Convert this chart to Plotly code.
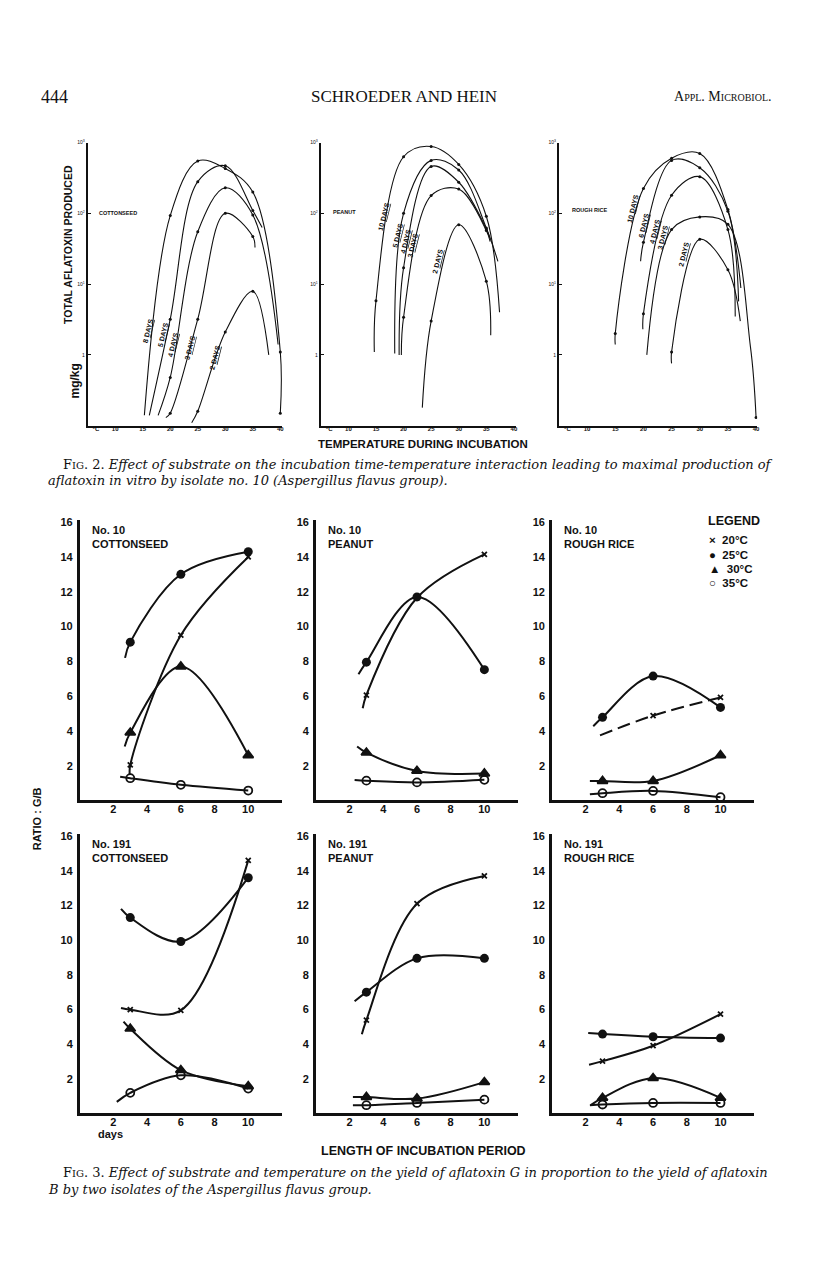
import plotly.graph_objects as go

W, H = 816, 1270

# ---------------- Fig. 2 data: total aflatoxin (mg/kg) vs temperature (C) ----------------
# measured temperatures / values per curve, plus where the drawn pen line starts and ends
COTTON_LABELS = ["8 DAYS", "5 DAYS", "4 DAYS", "3 DAYS", "2 DAYS"]
COTTON_T = [[20, 25, 30, 35, 40, 40], [20, 25, 30, 35], [20, 25, 30, 35], [20, 25, 30, 35], [25, 30, 35]]
COTTON_V = [[93, 550, 430, 200, 1.1, 0.15], [3.2, 280, 470, 110], [0.48, 55, 230, 95],
            [0.15, 3.2, 100, 47], [0.16, 2.1, 7.9]]
COTTON_START = [(15.3, 0.14), (16.2, 0.14), (17.8, 0.14), (19.2, 0.13), (23.9, 0.11)]
COTTON_END = [None, (36.7, 63), (39.6, 1.4), (35.4, 33), (37.9, 1.0)]

PEANUT_LABELS = ["10 DAYS", "5 DAYS", "4 DAYS", "3 DAYS", "2 DAYS"]
PEANUT_T = [[15, 20, 25, 30, 35], [20, 25, 30, 35], [20, 25, 30, 35], [20, 25, 30, 35], [25, 30, 35]]
PEANUT_V = [[5.8, 630, 880, 490, 91], [100, 560, 410, 62], [17, 460, 275, 60],
            [3.4, 178, 220, 57], [3.0, 69, 11]]
PEANUT_START = [(14.7, 1.1), (18.4, 1.05), (19.2, 1.0), (19.6, 1.0), (23.4, 0.18)]
PEANUT_END = [(37.4, 4.0), (37.1, 21), (35.6, 45), (35.7, 40), (35.8, 1.9)]

RICE_LABELS = ["10 DAYS", "6 DAYS", "4 DAYS", "3 DAYS", "2 DAYS"]
RICE_T = [[15, 20, 25, 30, 35], [20, 25, 30, 35], [20, 25, 30, 35], [25, 30, 35, 40], [25, 30, 35]]
RICE_V = [[2.0, 225, 600, 700, 113], [39, 560, 440, 107], [3.8, 180, 330, 59],
          [59, 89, 70, 0.13], [1.1, 43, 16]]
RICE_START = [(15.0, 1.4), (19.5, 21), (19.9, 2.3), (20.6, 1.0), (25.0, 0.76)]
RICE_END = [(37.3, 8.8), (36.9, 5.7), (36.3, 3.5), None, (37.2, 3.0)]
RICE_MID = [None, None, None, (39.0, 1.3), None]   # pen point between 35 and 40 on 3-day curve

# ---------------- Fig. 3 data: ratio G/B vs incubation days ----------------
DAYS = [3, 6, 10]
TEMPS = ["20", "25", "30", "35"]

N10_COTTON = {"20": [2.04, 9.5, 14.0], "25": [9.1, 13.0, 14.3], "30": [3.9, 7.7, 2.6], "35": [1.28, 0.9, 0.57]}
N10_COTTON_LEAD = {"20": (2.97, 1.5), "25": (2.69, 8.2), "30": (2.67, 3.1), "35": (2.4, 1.37)}

N10_PEANUT = {"20": [6.06, 11.65, 14.15], "25": [7.95, 11.7, 7.52], "30": [2.75, 1.7, 1.55], "35": [1.14, 1.04, 1.19]}
N10_PEANUT_LEAD = {"20": (2.78, 5.3), "25": (2.53, 7.25), "30": (2.45, 3.1), "35": (2.3, 1.18)}

N10_RICE = {"20": [None, 4.88, 5.92], "25": [4.78, 7.15, 5.35], "30": [1.12, 1.12, 2.6], "35": [0.42, 0.55, 0.19]}
N10_RICE_LEAD = {"20": (2.85, 3.74), "25": (2.45, 4.27), "30": (2.25, 1.12), "35": (2.25, 0.36)}

N191_COTTON = {"20": [5.99, 5.95, 14.6], "25": [11.3, 9.92, 13.6], "30": [4.89, 2.5, 1.57], "35": [1.19, 2.2, 1.44]}
N191_COTTON_LEAD = {"20": (2.45, 6.08), "25": (2.45, 11.8), "30": (2.6, 5.3), "35": (2.2, 0.67)}

N191_PEANUT = {"20": [5.39, 12.1, 13.7], "25": [7.0, 8.95, 8.95], "30": [0.95, 0.86, 1.81], "35": [0.48, 0.61, 0.8]}
N191_PEANUT_LEAD = {"20": (2.73, 4.57), "25": (2.3, 6.48), "30": (2.2, 0.95), "35": (2.2, 0.48)}

N191_RICE = {"20": [3.02, 3.91, 5.73], "25": [4.58, 4.43, 4.35], "30": [0.9, 2.04, 0.9], "35": [0.52, 0.61, 0.61]}
N191_RICE_LEAD = {"20": (2.2, 2.81), "25": (2.15, 4.64), "30": (2.3, 0.48), "35": (2.25, 0.48)}

SYMBOLS = {"20": "x-thin", "25": "circle", "30": "triangle-up", "35": "circle-open"}
SIZES = {"20": 5, "25": 9, "30": 9, "35": 8}
LEGEND_TEXT = {"20": "20°C", "25": "25°C", "30": "30°C", "35": "35°C"}


def fx(p):
    return p / W


def fy(p):
    return 1 - p / H


SANS = "Liberation Sans Narrow, Liberation Sans, Arial"
SERIF = "Liberation Serif, Times New Roman"
CAPTION = "DejaVu Serif, Liberation Serif"

fig = go.Figure()
layout = dict(width=W, height=H, margin=dict(l=0, r=0, t=0, b=0),
              paper_bgcolor="white", plot_bgcolor="white", showlegend=False)

# ---------- Fig. 2 panels ----------
f2_panels = [
    (COTTON_LABELS, COTTON_T, COTTON_V, COTTON_START, COTTON_END, [None] * 5, (88, 283, 40.3)),
    (PEANUT_LABELS, PEANUT_T, PEANUT_V, PEANUT_START, PEANUT_END, [None] * 5, (322, 518, 40.4)),
    (RICE_LABELS, RICE_T, RICE_V, RICE_START, RICE_END, RICE_MID, (561, 760, 40.2)),
]
for i, (labels, ts, vs, starts, ends, mids, (x0, x1, xr)) in enumerate(f2_panels, start=1):
    xa, ya = f"x{i}", f"y{i}"
    for t, v, s, e, m in zip(ts, vs, starts, ends, mids):
        lt = [s[0]] + list(t)
        lv = [s[1]] + list(v)
        if m is not None:
            lt.insert(-1, m[0])
            lv.insert(-1, m[1])
        if e is not None:
            lt.append(e[0])
            lv.append(e[1])
        fig.add_trace(go.Scatter(x=lt, y=lv, mode="lines", xaxis=xa, yaxis=ya,
                                 line=dict(color="#111", width=1.1, shape="spline", smoothing=1.0)))
        fig.add_trace(go.Scatter(x=t, y=v, mode="markers", xaxis=xa, yaxis=ya,
                                 marker=dict(color="#111", size=3)))
    layout[f"xaxis{i}"] = dict(domain=[fx(x0), fx(x1)], range=[5, xr], anchor=ya,
                               tickvals=[6.5, 10, 15, 20, 25, 30, 35, 40],
                               ticktext=["°C", "10", "15", "20", "25", "30", "35", "40"],
                               tickfont=dict(family=SANS, size=6, color="#111", weight="bold"),
                               showline=True, linewidth=2, linecolor="#111", ticks="",
                               showgrid=False, zeroline=False, ticklabelstandoff=-4)
    layout[f"yaxis{i}"] = dict(domain=[fy(423), fy(139)], type="log", range=[-1, 3], anchor=xa,
                               tickvals=[1, 10, 100, 1000],
                               ticktext=["1", "10<sup>1</sup>", "10<sup>2</sup>", "10<sup>3</sup>"],
                               tickfont=dict(family=SANS, size=5, color="#111"),
                               showline=True, linewidth=2, linecolor="#111",
                               ticks="inside", ticklen=3, tickcolor="#111",
                               showgrid=False, zeroline=False)

# ---------- Fig. 3 panels ----------
f3_panels = [
    (N10_COTTON, N10_COTTON_LEAD, "No. 10", "COTTONSEED", (80, 283), (518, 799)),
    (N10_PEANUT, N10_PEANUT_LEAD, "No. 10", "PEANUT", (317, 520), (518, 799)),
    (N10_RICE, N10_RICE_LEAD, "No. 10", "ROUGH RICE", (554, 757), (518, 799)),
    (N191_COTTON, N191_COTTON_LEAD, "No. 191", "COTTONSEED", (80, 283), (833, 1113)),
    (N191_PEANUT, N191_PEANUT_LEAD, "No. 191", "PEANUT", (317, 520), (833, 1113)),
    (N191_RICE, N191_RICE_LEAD, "No. 191", "ROUGH RICE", (554, 757), (833, 1113)),
]
annotations = []
for j, (vals, leads, iso, sub, (x0, x1), (y0, y1)) in enumerate(f3_panels, start=4):
    xa, ya = f"x{j}", f"y{j}"
    for temp in TEMPS:
        d = [dd for dd, v in zip(DAYS, vals[temp]) if v is not None]
        v = [v for v in vals[temp] if v is not None]
        dashed = (iso == "No. 10" and sub == "ROUGH RICE" and temp == "20")
        fig.add_trace(go.Scatter(x=[leads[temp][0]] + d, y=[leads[temp][1]] + v, mode="lines",
                                 xaxis=xa, yaxis=ya,
                                 line=dict(color="#111", width=2, shape="spline", smoothing=1.0,
                                           dash="13px,6px" if dashed else "solid")))
        fig.add_trace(go.Scatter(x=d, y=v, mode="markers", xaxis=xa, yaxis=ya,
                                 marker=dict(symbol=SYMBOLS[temp], size=SIZES[temp], color="#111",
                                             line=dict(color="#111", width=1.8 if temp != "25" else 0))))
    layout[f"xaxis{j}"] = dict(domain=[fx(x0), fx(x1)], range=[0, 12], anchor=ya,
                               tickvals=[2, 4, 6, 8, 10],
                               tickfont=dict(family=SANS, size=11, color="#111", weight="bold"),
                               showline=True, linewidth=2.5, linecolor="#111", ticks="",
                               showgrid=False, zeroline=False, ticklabelstandoff=-3)
    layout[f"yaxis{j}"] = dict(domain=[fy(y1), fy(y0)], range=[0, 16.1], anchor=xa,
                               tickvals=[2, 4, 6, 8, 10, 12, 14, 16],
                               tickfont=dict(family=SANS, size=11, color="#111", weight="bold"),
                               showline=True, linewidth=2.5, linecolor="#111", ticks="",
                               showgrid=False, zeroline=False, ticklabelstandoff=2)
    annotations.append(dict(x=fx(x0 + 10), y=fy(y0 + 2), xref="paper", yref="paper",
                            text=f"<b>{iso}<br>{sub}</b>", showarrow=False, align="left",
                            xanchor="left", yanchor="top",
                            font=dict(family=SANS, size=11, color="#111")))


def note(x, y, text, size, family=SANS, xanchor="center", angle=0, bold=False):
    annotations.append(dict(x=fx(x), y=fy(y), xref="paper", yref="paper", showarrow=False,
                            text=f"<b>{text}</b>" if bold else text, xanchor=xanchor,
                            yanchor="middle", textangle=angle, borderpad=0,
                            font=dict(family=family, size=size, color="#111")))


# page header
note(40, 93, "444", 18, SERIF, "left")
note(405, 93, "SCHROEDER AND HEIN", 17, SERIF)
note(776, 93, "A<span style='font-size:10px'>PPL</span>. M<span style='font-size:10px'>ICROBIOL</span>.",
     14, SERIF, "right")

# Fig. 2 text
note(68, 241, "TOTAL AFLATOXIN PRODUCED", 10.5, SANS, angle=-90, bold=True)
note(75, 378, "mg/kg", 12, SANS, angle=-90, bold=True)
note(425, 441, "TEMPERATURE DURING INCUBATION", 11.5, SANS, bold=True)
note(118, 210, "COTTONSEED", 5.5, SANS, bold=True)
note(346, 209, "PEANUT", 5.5, SANS, bold=True)
note(592, 207, "ROUGH RICE", 5.5, SANS, bold=True)
curve_label_pos = {
    "cotton": [(149, 328), (164, 332), (174, 342), (191, 345), (216, 355)],
    "peanut": [(385, 213), (399, 232), (407, 238), (414, 242), (439, 258)],
    "rice": [(635, 205), (646, 222), (657, 228), (665, 234), (686, 251)],
}
for key, labels in (("cotton", COTTON_LABELS), ("peanut", PEANUT_LABELS), ("rice", RICE_LABELS)):
    for (x, y), lab in zip(curve_label_pos[key], labels):
        n, w = lab.split()
        note(x, y, f"{n} <span style='text-decoration:underline'>{w}</span>", 7, SANS, angle=-76, bold=True)

note(62, 461.5, "F<span style='font-size:10px'>IG</span>. 2. <i>Effect of substrate on the incubation "
     "time-temperature interaction leading to maximal production of</i>", 13, CAPTION, "left")
note(47, 478.5, "<i>aflatoxin in vitro by isolate no. 10 (Aspergillus flavus group).</i>", 13, CAPTION, "left")

# Fig. 3 text
note(38, 817, "RATIO : G/B", 11, SANS, angle=-90, bold=True)
note(111, 1134, "days", 11, SANS, bold=True)
note(425, 1151, "LENGTH OF INCUBATION PERIOD", 12.5, SANS, bold=True)
note(62, 1172.5, "F<span style='font-size:10px'>IG</span>. 3. <i>Effect of substrate and temperature on the "
     "yield of aflatoxin G in proportion to the yield of aflatoxin</i>", 13, CAPTION, "left")
note(47, 1189.5, "<i>B by two isolates of the Aspergillus flavus group.</i>", 13, CAPTION, "left")

# legend of Fig. 3
note(710, 519, "LEGEND", 12.5, SANS, "left", bold=True)
legend_syms = {"20": "×", "25": "●", "30": "▲", "35": "○"}
for k, temp in enumerate(TEMPS):
    note(711, 538 + k * 14.3, f"{legend_syms[temp]}  {LEGEND_TEXT[temp]}", 11.5, SANS, "left", bold=True)

layout["annotations"] = annotations
fig.update_layout(**layout)
fig.write_html("out.html", config={"displayModeBar": False},
               post_script="document.body.style.margin='0';document.body.style.overflow='hidden';")
